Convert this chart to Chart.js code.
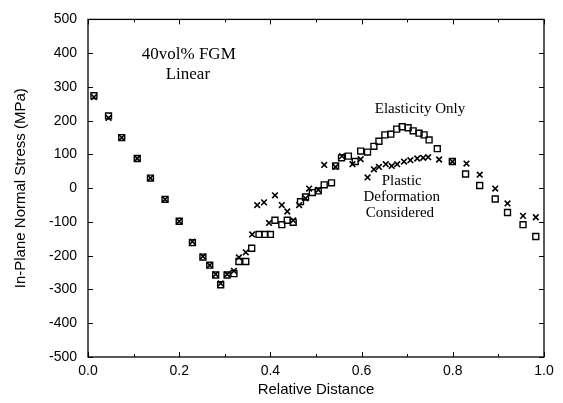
<!DOCTYPE html>
<html><head><meta charset="utf-8">
<script src="https://cdn.jsdelivr.net/npm/chart.js@4"></script>
<style>html,body{margin:0;padding:0;background:#fff}#wrap{width:563px;height:403px}</style>
</head><body><div id="wrap"><canvas id="c" width="563" height="403"></canvas></div>
<script>
// Elasticity Only (open squares)
const elasticX = [0.013,0.045,0.074,0.108,0.137,0.169,0.2,0.229,0.252,0.267,0.28,0.291,0.305,0.32,0.331,0.346,0.359,0.375,0.388,0.4,0.41,0.425,0.437,0.45,0.466,0.477,0.492,0.505,0.518,0.534,0.543,0.556,0.571,0.586,0.598,0.613,0.627,0.638,0.651,0.664,0.677,0.689,0.702,0.713,0.726,0.737,0.748,0.766,0.799,0.828,0.859,0.893,0.92,0.954,0.982];
const elasticY = [274,214,150,88,30,-33,-98,-161,-204,-228,-257,-286,-257,-253,-217,-217,-178,-137,-137,-137,-95,-108,-95,-101,-40,-26,-13,-8,10,16,66,90,95,79,110,107,124,139,158,160,175,182,179,170,163,158,143,117,79,42,8,-32,-72,-108,-143];
// Plastic Deformation Considered (crosses)
const plasticX = [0.013,0.045,0.074,0.108,0.137,0.169,0.2,0.229,0.252,0.267,0.28,0.291,0.305,0.32,0.331,0.346,0.36,0.371,0.386,0.397,0.41,0.425,0.437,0.45,0.463,0.477,0.485,0.505,0.518,0.543,0.557,0.58,0.598,0.613,0.627,0.638,0.653,0.666,0.678,0.693,0.707,0.722,0.735,0.746,0.77,0.799,0.83,0.859,0.893,0.92,0.954,0.982];
const plasticY = [270,208,150,88,30,-33,-98,-158,-202,-228,-255,-282,-255,-245,-205,-190,-137,-50,-42,-103,-21,-50,-69,-95,-50,-30,-1,-5,69,63,95,71,86,32,56,63,71,66,71,79,83,88,90,92,85,79,73,40,-1,-45,-82,-86];
const xTicks = [0,0.2,0.4,0.6,0.8,1.0];
const xMinorTicks = [0.1,0.3,0.5,0.7,0.9];
const yTicks = [-500,-400,-300,-200,-100,0,100,200,300,400,500];
const notes = [
  {text:'40vol% FGM', x:0.221, y:396, size:17},
  {text:'Linear', x:0.219, y:337, size:17},
  {text:'Elasticity Only', x:0.728, y:233, size:15},
  {text:'Plastic', x:0.688, y:22, size:15},
  {text:'Deformation', x:0.688, y:-25, size:15},
  {text:'Considered', x:0.684, y:-74, size:15}
];

const toPts = (xs, ys) => xs.map((x, i) => ({x: x, y: ys[i]}));

const framePlugin = {
  id: 'frame',
  afterDraw(chart) {
    const {ctx, chartArea: a, scales: {x, y}} = chart;
    ctx.save();
    ctx.strokeStyle = '#000';
    ctx.lineWidth = 1.3;
    ctx.strokeRect(a.left, a.top, a.right - a.left, a.bottom - a.top);
    ctx.lineWidth = 1;
    ctx.beginPath();
    const tx = (v, len) => {
      const p = Math.round(x.getPixelForValue(v)) + 0.5;
      ctx.moveTo(p, a.bottom); ctx.lineTo(p, a.bottom - len);
      ctx.moveTo(p, a.top); ctx.lineTo(p, a.top + len);
    };
    xTicks.forEach(v => tx(v, 5));
    xMinorTicks.forEach(v => tx(v, 3));
    yTicks.forEach(v => {
      const p = Math.round(y.getPixelForValue(v)) + 0.5;
      ctx.moveTo(a.left, p); ctx.lineTo(a.left + 5, p);
      ctx.moveTo(a.right, p); ctx.lineTo(a.right - 5, p);
    });
    ctx.stroke();
    ctx.fillStyle = '#000';
    ctx.textAlign = 'center';
    ctx.textBaseline = 'middle';
    notes.forEach(n => {
      ctx.font = n.size + 'px "Liberation Serif", "Times New Roman", serif';
      ctx.fillText(n.text, x.getPixelForValue(n.x), y.getPixelForValue(n.y));
    });
    ctx.restore();
  }
};

new Chart(document.getElementById('c'), {
  type: 'scatter',
  data: {
    datasets: [
      {label: 'Elasticity Only', data: toPts(elasticX, elasticY), pointStyle: 'rect', pointRadius: 4.2, pointBorderWidth: 1.4, borderColor: '#000', backgroundColor: 'rgba(255,255,255,0)', showLine: false},
      {label: 'Plastic Deformation Considered', data: toPts(plasticX, plasticY), pointStyle: 'crossRot', pointRadius: 4, pointBorderWidth: 1.6, borderColor: '#000', backgroundColor: '#000', showLine: false}
    ]
  },
  options: {
    responsive: false,
    animation: false,
    devicePixelRatio: 1,
    layout: {padding: {left: 0, right: 19, top: 12, bottom: 0}},
    plugins: {legend: {display: false}, tooltip: {enabled: false}},
    scales: {
      x: {
        type: 'linear', min: 0, max: 1,
        afterFit: s => { s.height = 46; },
        afterBuildTicks: s => { s.ticks = xTicks.map(v => ({value: v})); },
        grid: {display: false, drawTicks: false},
        border: {display: false},
        ticks: {color: '#000', font: {family: '"Liberation Sans", Arial, sans-serif', size: 14}, padding: 6, maxRotation: 0, callback: v => Number(v).toFixed(1)},
        title: {display: true, text: 'Relative Distance', color: '#000', font: {family: '"Liberation Sans", Arial, sans-serif', size: 15}, padding: {top: 0, bottom: 4}}
      },
      y: {
        type: 'linear', min: -500, max: 500,
        afterFit: s => { s.width = 88; },
        afterBuildTicks: s => { s.ticks = yTicks.map(v => ({value: v})); },
        grid: {display: false, drawTicks: false},
        border: {display: false},
        ticks: {color: '#000', font: {family: '"Liberation Sans", Arial, sans-serif', size: 14}, padding: 11},
        title: {display: true, text: 'In-Plane Normal Stress (MPa)', color: '#000', font: {family: '"Liberation Sans", Arial, sans-serif', size: 15}, padding: {top: 12, bottom: 0}}
      }
    }
  },
  plugins: [framePlugin]
});
</script>
</body></html>
